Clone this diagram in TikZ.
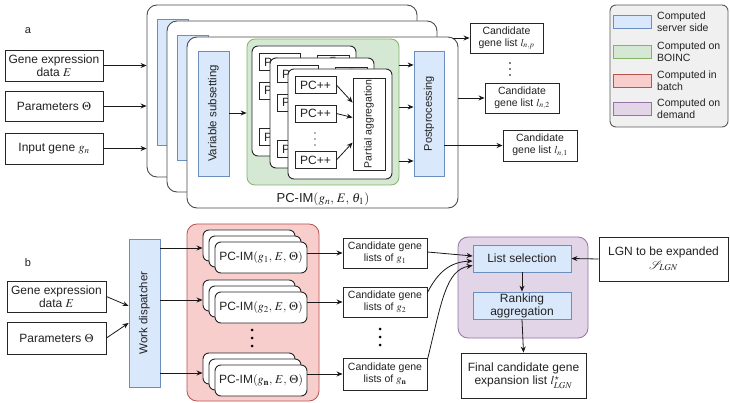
\documentclass[tikz,border=0pt]{standalone}
\usepackage{mathptmx}
\usepackage{fontspec}
\setmainfont{Liberation Sans}
\usetikzlibrary{arrows.meta,calc}
\definecolor{blueL}{HTML}{DAE8FC}
\definecolor{blueD}{HTML}{6C8EBF}
\definecolor{greenL}{HTML}{D5E8D4}
\definecolor{greenD}{HTML}{82B366}
\definecolor{redL}{HTML}{F8CECC}
\definecolor{redD}{HTML}{B85450}
\definecolor{purL}{HTML}{E1D5E7}
\definecolor{purD}{HTML}{9673A6}
\definecolor{legL}{HTML}{F0F0F0}
\definecolor{txt}{HTML}{222222}
\begin{document}
\begin{tikzpicture}[x=1pt,y=-1pt,
  box/.style={draw=black!85, line width=0.9pt, fill=white, inner sep=1pt, align=center, text=txt, font=\fontsize{12}{13.5}\selectfont},
  sbox/.style={box, font=\fontsize{10.5}{12}\selectfont},
  bluebox/.style={draw=blueD, fill=blueL, line width=0.8pt, inner sep=0pt},
  panel/.style={draw=black!70, fill=white, rounded corners=10pt, line width=0.9pt, inner sep=0pt},
  spanel/.style={draw=black!85, fill=white, rounded corners=6pt, line width=0.9pt, inner sep=0pt},
  rtext/.style={rotate=90, text=txt, inner sep=0pt},
  arr/.style={-{Stealth[length=6pt,width=5pt]}, line width=0.8pt, black!90},
  swatch/.style={minimum width=38pt, minimum height=13pt, line width=0.8pt, inner sep=0pt},
  legtext/.style={anchor=west, align=left, text=txt, inner sep=0pt, font=\fontsize{10.5}{12}\selectfont},
  dot/.style={fill=black, inner sep=0pt, minimum size=1.6pt, circle},
  bdot/.style={fill=black, inner sep=0pt, minimum size=3pt, circle}
]
\useasboundingbox (0,0) rectangle (730,403);
\fill[white] (0,0) rectangle (730,403);

% ---------- part a ----------
\node[text=txt, font=\fontsize{11}{12}\selectfont] (lbla) at (28,31) {a};
\node[box, minimum width=98pt, minimum height=31pt] (ge) at (54,65.5) {Gene expression\\data $E$};
\node[box, minimum width=98pt, minimum height=30pt] (par) at (54,106) {Parameters $\Theta$};
\node[box, minimum width=98pt, minimum height=31pt] (ing) at (54,148.5) {Input gene $g_n$};

\node[panel, minimum width=270pt, minimum height=172pt] (p1) at (282,91) {};
\node[bluebox, minimum width=31pt, minimum height=126pt] (b1) at (172.5,82) {};
\node[panel, minimum width=270pt, minimum height=171pt] (p2) at (302,106.5) {};
\node[bluebox, minimum width=31pt, minimum height=125pt] (b2) at (192.5,97.5) {};
\node[panel, minimum width=271pt, minimum height=171pt] (p3) at (322.5,122.5) {};

\draw[arr] (ge.east) -- (ge.east -| p1.west);
\draw[arr] (par.east) -- (par.east -| p1.west);
\draw[arr] (ing.east) -- (ing.east -| p1.west);

\node[bluebox, minimum width=31pt, minimum height=125pt] (vs) at (213.5,113.5) {};
\node[rtext, font=\fontsize{11.5}{13}\selectfont] (vst) at (vs.center) {Variable subsetting};

\node[draw=greenD, fill=greenL, line width=0.8pt, rounded corners=8pt, minimum width=152pt, minimum height=146pt, inner sep=0pt] (grn) at (323,112) {};
\node[text=txt, font=\fontsize{13}{14}\selectfont, inner sep=0pt] (pcim) at (323,199) {PC-IM$(g_n,\, E,\, \theta_1)$};
\draw[arr] (vs.east |- 0,113) -- (grn.west |- 0,113);

\foreach \i/\sx/\sy in {1/252/46, 2/270/58, 3/288/69}{
  \node[spanel, minimum width=104pt, minimum height=110pt] (st\i) at (\sx+52,\sy+55) {};
  \node[box, minimum width=41pt, minimum height=17pt] (pca\i) at (\sx+27.5,\sy+16) {PC++};
  \node[box, minimum width=41pt, minimum height=17pt] (pcb\i) at (\sx+27.5,\sy+44.5) {PC++};
  \node[box, minimum width=41pt, minimum height=17pt] (pcc\i) at (\sx+27.5,\sy+91) {PC++};
  \node[box, minimum width=32pt, minimum height=92pt] (pag\i) at (\sx+81,\sy+55) {};
  \node[rtext, font=\fontsize{10.5}{12}\selectfont] (pagt\i) at (pag\i.center) {Partial aggregation};
  \draw[arr] (pca\i.east) -- ($(pag\i.north west)+(0,25)$);
  \draw[arr] (pcb\i.east) -- ($(pag\i.north west)+(0,40)$);
  \draw[arr] (pcc\i.east) -- ($(pag\i.north west)+(0,65)$);
  \node[dot, fill=black!60] (da\i) at (\sx+27,\sy+64) {};
  \node[dot, fill=black!60] (db\i) at (\sx+27,\sy+70) {};
  \node[dot, fill=black!60] (dc\i) at (\sx+27,\sy+76) {};
}

\node[bluebox, minimum width=30pt, minimum height=125pt] (pp) at (429,113.5) {};
\node[rtext, font=\fontsize{11}{12}\selectfont] (ppt) at (pp.center) {Postprocessing};
\draw[arr] (grn.east |- 0,65) -- (pp.west |- 0,65);
\draw[arr] (grn.east |- 0,107) -- (pp.west |- 0,107);
\draw[arr] (grn.east |- 0,161) -- (pp.west |- 0,161);

\node[sbox, minimum width=73pt, minimum height=30pt] (lnp) at (506.5,38) {Candidate\\gene list $l_{n,p}$};
\node[sbox, minimum width=74pt, minimum height=30pt] (ln2) at (522,98) {Candidate\\gene list $l_{n,2}$};
\node[sbox, minimum width=74pt, minimum height=31pt] (ln1) at (540,145.5) {Candidate\\gene list $l_{n,1}$};
\draw[arr] ([xshift=-5pt]p3.east |- lnp.west) -- (lnp.west);
\draw[arr] (p3.east |- ln2.west) -- (ln2.west);
\draw[arr] (pp.east |- ln1.west) -- (ln1.west);
\node[dot] (lda) at (510,63) {};
\node[dot] (ldb) at (510,69) {};
\node[dot] (ldc) at (510,75) {};

% legend
\node[draw=black!65, fill=legL, rounded corners=6pt, line width=0.9pt, minimum width=118pt, minimum height=122pt, inner sep=0pt] (leg) at (669,66) {};
\node[swatch, draw=blueD, fill=blueL] (sw1) at (632,21.5) {};
\node[swatch, draw=greenD, fill=greenL] (sw2) at (632,51.5) {};
\node[swatch, draw=redD, fill=redL] (sw3) at (632,81) {};
\node[swatch, draw=purD, fill=purL] (sw4) at (632,109) {};
\node[legtext] (lt1) at (657,21.5) {Computed\\server side};
\node[legtext] (lt2) at (657,51.5) {Computed on\\BOINC};
\node[legtext] (lt3) at (657,81) {Computed in\\batch};
\node[legtext] (lt4) at (657,109) {Computed on\\demand};

% ---------- part b ----------
\node[text=txt, font=\fontsize{11}{12}\selectfont] (lblb) at (28,263) {b};
\node[box, minimum width=99pt, minimum height=31pt] (ge2) at (56.5,296.5) {Gene expression\\data $E$};
\node[box, minimum width=99pt, minimum height=32pt] (par2) at (56.5,338) {Parameters $\Theta$};
\node[bluebox, minimum width=31pt, minimum height=148pt] (wd) at (144.5,313) {};
\node[rtext, font=\fontsize{11.5}{13}\selectfont] (wdt) at (wd.center) {Work dispatcher};
\draw[arr] (ge2.east) -- (wd.west |- 0,306);
\draw[arr] (par2.east) -- (wd.west |- 0,323);

\node[draw=redD, fill=redL, line width=0.8pt, rounded corners=10pt, minimum width=132pt, minimum height=177pt, inner sep=0pt] (red) at (253,312.5) {};

\foreach \i/\fy/\g in {1/242/g_1, 2/292/g_2, 3/365/g_{\mathbf{n}}}{
  \node[spanel, minimum width=92pt, minimum height=31pt] (sa\i) at (249,\fy+3.5) {};
  \node[spanel, minimum width=92pt, minimum height=31pt] (sb\i) at (255,\fy+9.5) {};
  \node[spanel, minimum width=92pt, minimum height=31pt, text=txt, font=\fontsize{12}{13.5}\selectfont] (sc\i) at (261,\fy+15.5) {PC-IM$(\g,\, E,\, \Theta)$};
}
\draw[arr] (wd.east |- 0,248) -- (sa1.west |- 0,248);
\draw[arr] (wd.east |- 0,300) -- (sa2.west |- 0,300);
\draw[arr] (wd.east |- 0,373) -- (sa3.west |- 0,373);
\node[bdot] (rd1) at (252,330) {};
\node[bdot] (rd2) at (252,338) {};
\node[bdot] (rd3) at (252,346) {};

\node[sbox, minimum width=84pt, minimum height=30pt] (c1) at (385,253) {Candidate gene\\lists of $g_1$};
\node[sbox, minimum width=84pt, minimum height=30pt] (c2) at (385,302) {Candidate gene\\lists of $g_2$};
\node[sbox, minimum width=84pt, minimum height=32pt] (c3) at (385,374) {Candidate gene\\lists of $g_{\mathbf{n}}$};
\draw[arr] (sc1.east |- c1.west) -- (c1.west);
\draw[arr] (sc2.east |- c2.west) -- (c2.west);
\draw[arr] (sc3.east |- c3.west) -- (c3.west);
\node[bdot] (cd1) at (380,329) {};
\node[bdot] (cd2) at (380,337) {};
\node[bdot] (cd3) at (380,345) {};

\node[draw=purD, fill=purL, line width=0.8pt, rounded corners=10pt, minimum width=130pt, minimum height=101pt, inner sep=0pt] (pur) at (523,287.5) {};
\node[bluebox, minimum width=98pt, minimum height=27pt, text=txt, font=\fontsize{12}{13.5}\selectfont] (ls) at (522,258.5) {List selection};
\node[bluebox, minimum width=98pt, minimum height=27pt, align=center, text=txt, font=\fontsize{12}{13}\selectfont] (ra) at (522,305.5) {Ranking\\aggregation};
\node[box, minimum width=125pt, minimum height=45pt] (fin) at (523.5,375.5) {Final candidate gene\\expansion list $l^{\star}_{LGN}$};
\node[box, minimum width=129pt, minimum height=44pt] (lgn) at (663.5,259) {LGN to be expanded\\$\mathcal{S}_{LGN}$};

\draw[arr] (lgn.west) -- (ls.east);
\draw[arr] (ls.south) -- (ra.north);
\draw[arr] (ra.south) -- (fin.north);
\draw[arr] ([yshift=1pt]c1.east) -- ([yshift=2.5pt]ls.west);
\draw[arr] ([yshift=-6pt]c2.north east) .. controls (438,272) and (450,262) .. ([yshift=-2.5pt]ls.west);
\draw[arr] ([yshift=-2pt]c3.north east) .. controls (442,300) and (446,270) .. ([yshift=-7pt]ls.west);
\end{tikzpicture}
\end{document}
